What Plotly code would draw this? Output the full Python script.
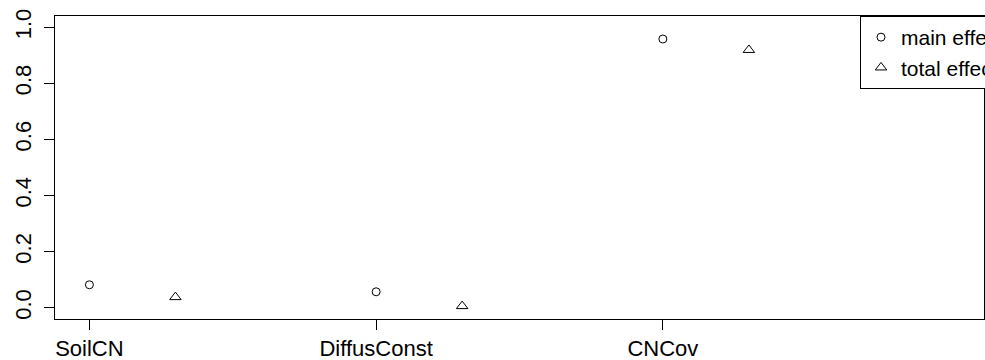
import plotly.graph_objects as go

categories = ["SoilCN", "DiffusConst", "CNCov"]
cat_pos = [1, 2, 3]
main_effect = [0.082, 0.057, 0.958]
total_effect = [0.038, 0.006, 0.919]
offset = 0.3
y_ticks = [0.0, 0.2, 0.4, 0.6, 0.8, 1.0]
y_tick_labels = ["0.0", "0.2", "0.4", "0.6", "0.8", "1.0"]

FONT = "Liberation Sans, Arial, Helvetica, sans-serif"

fig = go.Figure()
fig.add_trace(go.Scatter(
    x=cat_pos, y=main_effect, mode="markers", name="main effect",
    marker=dict(symbol="circle-open", size=8, color="black", line=dict(width=1, color="black")),
))
fig.add_trace(go.Scatter(
    x=[p + offset for p in cat_pos], y=total_effect, mode="markers", name="total effect",
    marker=dict(symbol="triangle-up-open", size=10, color="black", line=dict(width=1, color="black")),
))

fig.update_layout(
    width=985, height=360,
    margin=dict(l=55, r=1, t=16, b=41, autoexpand=False),
    paper_bgcolor="white", plot_bgcolor="white",
    font=dict(family=FONT, size=22, color="black"),
    showlegend=True,
    legend=dict(
        x=(860 - 55) / 929, xanchor="left", y=1, yanchor="top",
        bordercolor="black", borderwidth=1, bgcolor="white",
        font=dict(family=FONT, size=21, color="black"),
        itemwidth=30, tracegroupgap=0,
    ),
    xaxis=dict(
        range=[0.88, 4.12], tickvals=cat_pos, ticktext=categories,
        showgrid=False, zeroline=False, showline=True, linecolor="black", linewidth=1,
        mirror=True, ticks="outside", ticklen=10, tickcolor="black", tickwidth=1,
        tickfont=dict(family=FONT, size=22, color="black"),
    ),
    yaxis=dict(
        range=[-0.04, 1.04], tickvals=y_ticks, ticktext=y_tick_labels,
        showgrid=False, zeroline=False, showline=True, linecolor="black", linewidth=1,
        mirror=True, ticks="outside", ticklen=10, tickcolor="black", tickwidth=1,
        tickangle=-90, tickfont=dict(family=FONT, size=22, color="black"),
        ticklabelstandoff=4,
    ),
)

fig.write_html(
    "out.html",
    config={"displayModeBar": False},
    post_script="document.body.style.margin='0';document.body.style.overflow='hidden';",
)
